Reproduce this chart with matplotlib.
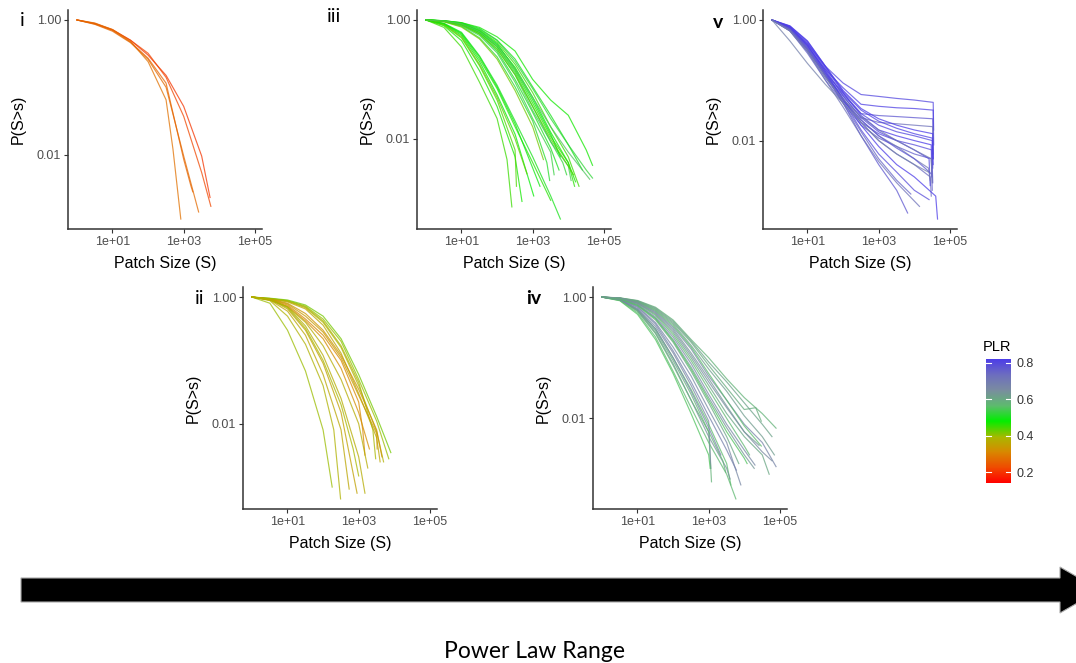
import numpy as np
import matplotlib
matplotlib.use('Agg')
import matplotlib.pyplot as plt
from matplotlib.colors import LinearSegmentedColormap, Normalize
from matplotlib.cm import ScalarMappable
from matplotlib.patches import Polygon

plt.rcParams['font.family'] = ['Liberation Sans', 'DejaVu Sans']

# patch sizes at which P(S>s) was read for every curve
S_GRID = [1, 3.2, 10, 32, 100, 320, 1000, 3200, 10000, 32000]

# each curve: (PLR, P at S_GRID[:n], extra sizes, extra P)
panel_i = [
    (0.20, [1, 0.89, 0.71, 0.50, 0.30, 0.15, 0.052, 0.0095], [5500], [0.0023]),
    (0.22, [1, 0.88, 0.72, 0.50, 0.32, 0.14, 0.037, 0.0054], [5800], [0.0017]),
    (0.28, [1, 0.90, 0.72, 0.48, 0.24, 0.065], [500, 830], [0.012, 0.0011]),
    (0.27, [1, 0.86, 0.68, 0.46, 0.26, 0.10, 0.0095], [2630], [0.0014]),
    (0.26, [1, 0.87, 0.70, 0.47, 0.27, 0.115, 0.0085], [1600, 1800], [0.0034, 0.0028]),
]

panel_ii = [
    (0.40, [1, 0.95, 0.88, 0.72, 0.45, 0.20, 0.050, 0.011], [7000], [0.0028]),
    (0.38, [1, 0.94, 0.86, 0.68, 0.40, 0.16, 0.040, 0.0075], [5000], [0.0025]),
    (0.42, [1, 0.96, 0.90, 0.75, 0.50, 0.22, 0.060, 0.013], [8000], [0.0035]),
    (0.36, [1, 0.93, 0.84, 0.65, 0.36, 0.13, 0.030, 0.0060], [4000], [0.0025]),
    (0.39, [1, 0.95, 0.87, 0.70, 0.42, 0.17, 0.045], [2500, 3000], [0.008, 0.0028]),
    (0.33, [1, 0.93, 0.80, 0.55, 0.30, 0.12, 0.035, 0.0080], [4500], [0.003]),
    (0.31, [1, 0.92, 0.75, 0.45, 0.25, 0.10, 0.022], [1300, 1500], [0.008, 0.0032]),
    (0.32, [1, 0.90, 0.72, 0.42, 0.22, 0.075, 0.015], [2000], [0.0040]),
    (0.34, [1, 0.92, 0.78, 0.50, 0.28, 0.11, 0.028, 0.007], [3300], [0.004]),
    (0.37, [1, 0.90, 0.70, 0.40, 0.17, 0.05, 0.010], [1800], [0.0020]),
    (0.40, [1, 0.80, 0.30, 0.068, 0.008], [180], [0.0010]),
    (0.38, [1, 0.88, 0.50, 0.18, 0.04], [200, 310], [0.008, 0.00065]),
    (0.36, [1, 0.90, 0.60, 0.25, 0.06, 0.008], [540], [0.00093]),
    (0.35, [1, 0.92, 0.65, 0.30, 0.09, 0.015], [900], [0.0008]),
    (0.37, [1, 0.93, 0.70, 0.35, 0.12, 0.025, 0.003], [1500], [0.0008]),
    (0.39, [1, 0.92, 0.68, 0.32, 0.10, 0.020], [700, 1000], [0.004, 0.0015]),
]

panel_iii = [
    (0.45, [1, 0.75, 0.35, 0.09, 0.022], [190, 260], [0.0045, 0.00072]),
    (0.47, [1, 0.80, 0.45, 0.14, 0.035, 0.005], [500], [0.00089]),
    (0.44, [1, 0.82, 0.50, 0.17, 0.045, 0.0065], [350], [0.0016]),
    (0.48, [1, 0.85, 0.55, 0.20, 0.055, 0.012], [1070], [0.0011]),
    (0.46, [1, 0.86, 0.58, 0.22, 0.07, 0.016, 0.004], [3200], [0.00093]),
    (0.50, [1, 0.88, 0.62, 0.25, 0.08, 0.02, 0.005, 0.0011], [6000], [0.00045]),
    (0.43, [1, 0.84, 0.52, 0.18, 0.05, 0.010], [690], [0.0026]),
    (0.49, [1, 0.87, 0.60, 0.24, 0.075, 0.018], [1600], [0.0016]),
    (0.52, [1, 0.96, 0.85, 0.62, 0.35, 0.13, 0.035, 0.009], [7000, 9000], [0.004, 0.0025]),
    (0.50, [1, 0.95, 0.82, 0.58, 0.30, 0.10, 0.028, 0.007], [5500], [0.0030]),
    (0.47, [1, 0.96, 0.86, 0.65, 0.38, 0.16, 0.050, 0.013, 0.004], [16000], [0.0019]),
    (0.53, [1, 0.95, 0.80, 0.55, 0.28, 0.09, 0.022, 0.006], [4000], [0.0025]),
    (0.45, [1, 0.97, 0.88, 0.68, 0.42, 0.18, 0.060, 0.016, 0.005], [20000], [0.0016]),
    (0.51, [1, 0.94, 0.78, 0.50, 0.24, 0.075, 0.020], [2500, 3000], [0.004, 0.002]),
    (0.54, [1, 0.95, 0.84, 0.60, 0.33, 0.12, 0.030, 0.009, 0.0035], [12000], [0.0020]),
    (0.48, [1, 0.96, 0.87, 0.66, 0.40, 0.15, 0.045, 0.012], [6000], [0.0050]),
    (0.42, [1, 0.93, 0.76, 0.48, 0.22, 0.065, 0.016], [2000], [0.0045]),
    (0.50, [1, 0.97, 0.90, 0.72, 0.46, 0.22, 0.075, 0.025, 0.008], [25000], [0.0030]),
    (0.46, [1, 0.96, 0.85, 0.62, 0.36, 0.14, 0.040, 0.011, 0.004], [15000], [0.0016]),
    (0.52, [1, 0.97, 0.89, 0.70, 0.45, 0.20, 0.070, 0.022, 0.008, 0.003], [48000], [0.0022]),
    (0.47, [1, 0.97, 0.90, 0.75, 0.52, 0.30, 0.10, 0.045, 0.025, 0.0065], [48000], [0.0036]),
    (0.44, [1, 0.95, 0.83, 0.58, 0.32, 0.12, 0.035, 0.010, 0.0035], [14000], [0.0025]),
    (0.55, [1, 0.96, 0.86, 0.64, 0.38, 0.15, 0.050, 0.016, 0.0060], [40000], [0.0021]),
]

panel_iv = [
    (0.58, [1, 0.90, 0.60, 0.28, 0.09, 0.025, 0.006], [1200], [0.0009]),
    (0.65, [1, 0.92, 0.65, 0.33, 0.12, 0.035, 0.009], [1150], [0.0015]),
    (0.56, [1, 0.91, 0.62, 0.30, 0.10, 0.030, 0.008, 0.0018], [4200], [0.0008]),
    (0.57, [1, 0.88, 0.55, 0.22, 0.06, 0.015, 0.004, 0.0012], [5800], [0.00047]),
    (0.66, [1, 0.93, 0.70, 0.38, 0.15, 0.050, 0.014, 0.004], [8000], [0.0008]),
    (0.63, [1, 0.94, 0.75, 0.45, 0.20, 0.070, 0.022, 0.007, 0.0025], [19000], [0.0015]),
    (0.60, [1, 0.95, 0.80, 0.52, 0.26, 0.10, 0.035, 0.012, 0.005, 0.0025], [50000], [0.0012]),
    (0.67, [1, 0.96, 0.83, 0.58, 0.32, 0.14, 0.050, 0.020, 0.008, 0.004], [78000], [0.0016]),
    (0.58, [1, 0.97, 0.88, 0.68, 0.42, 0.20, 0.10, 0.045, 0.022, 0.012], [78000], [0.0069]),
    (0.62, [1, 0.96, 0.85, 0.62, 0.36, 0.16, 0.065, 0.028, 0.011, 0.005], [70000], [0.0025]),
    (0.59, [1, 0.96, 0.86, 0.64, 0.38, 0.18, 0.075, 0.032, 0.014], [21000, 30000], [0.015, 0.009]),
    (0.68, [1, 0.92, 0.68, 0.36, 0.13, 0.040, 0.011, 0.003], [6000], [0.0014]),
    (0.55, [1, 0.87, 0.52, 0.20, 0.055, 0.012, 0.0025], [1100], [0.0015]),
    (0.64, [1, 0.90, 0.60, 0.26, 0.08, 0.020, 0.005, 0.0015], [4000], [0.0010]),
    (0.57, [1, 0.95, 0.78, 0.50, 0.24, 0.09, 0.030, 0.010, 0.0035], [14000], [0.0025]),
    (0.66, [1, 0.94, 0.76, 0.47, 0.22, 0.080, 0.025, 0.008, 0.003], [20000], [0.0017]),
    (0.60, [1, 0.93, 0.72, 0.42, 0.18, 0.060, 0.018, 0.005], [7000], [0.0018]),
    (0.56, [1, 0.96, 0.84, 0.60, 0.34, 0.15, 0.055, 0.020, 0.0075], [30000], [0.0035]),
    (0.65, [1, 0.95, 0.80, 0.54, 0.28, 0.11, 0.040, 0.015, 0.006, 0.0028], [60000], [0.0020]),
    (0.58, [1, 0.89, 0.58, 0.25, 0.075, 0.020, 0.006], [2500, 3000], [0.002, 0.0013]),
    (0.61, [1, 0.97, 0.87, 0.66, 0.40, 0.19, 0.085, 0.040, 0.018, 0.008], [60000], [0.005]),
    (0.67, [1, 0.91, 0.63, 0.30, 0.10, 0.028, 0.007], [2200], [0.0025]),
    (0.55, [1, 0.93, 0.73, 0.44, 0.19, 0.065, 0.020, 0.006, 0.0022], [12000], [0.0018]),
    (0.63, [1, 0.96, 0.82, 0.56, 0.30, 0.12, 0.045, 0.016, 0.006], [26000], [0.0036]),
]

panel_v = [
    (0.80, [1, 0.75, 0.40, 0.17, 0.090, 0.058, 0.054, 0.050, 0.047], [34000, 35000], [0.043, 0.015]),
    (0.81, [1, 0.72, 0.36, 0.15, 0.075, 0.040, 0.037, 0.035, 0.034], [34000, 35000], [0.032, 0.0085]),
    (0.77, [1, 0.70, 0.33, 0.13, 0.062, 0.028, 0.026, 0.025, 0.024], [33000, 34000], [0.023, 0.006]),
    (0.72, [1, 0.68, 0.32, 0.12, 0.055, 0.024, 0.020, 0.019, 0.018], [33000, 34000], [0.017, 0.005]),
    (0.80, [1, 0.74, 0.38, 0.14, 0.058, 0.028, 0.018, 0.014, 0.012], [32000, 33000], [0.010, 0.0035]),
    (0.82, [1, 0.78, 0.42, 0.16, 0.062, 0.026, 0.015, 0.012, 0.010], [30000, 31000], [0.0085, 0.0025]),
    (0.79, [1, 0.70, 0.32, 0.12, 0.048, 0.020, 0.013, 0.010, 0.0085], [31000, 33000], [0.007, 0.0020]),
    (0.76, [1, 0.66, 0.28, 0.10, 0.042, 0.018, 0.011, 0.008, 0.006], [30000, 32000], [0.005, 0.0015]),
    (0.81, [1, 0.80, 0.45, 0.17, 0.065, 0.032, 0.021, 0.016, 0.013], [32000, 34000], [0.011, 0.004]),
    (0.74, [1, 0.70, 0.33, 0.12, 0.050, 0.020, 0.010, 0.006, 0.004], [28000, 30000], [0.0025, 0.0012]),
    (0.80, [1, 0.76, 0.40, 0.15, 0.055, 0.024, 0.014, 0.010, 0.007], [26000, 28000], [0.005, 0.0018]),
    (0.70, [1, 0.66, 0.30, 0.11, 0.046, 0.022, 0.012, 0.008, 0.005], [25000, 28000], [0.0035, 0.0022]),
    (0.78, [1, 0.72, 0.35, 0.13, 0.050, 0.022, 0.012, 0.0075, 0.005], [20000, 30000], [0.0035, 0.0028]),
    (0.82, [1, 0.79, 0.44, 0.17, 0.068, 0.034, 0.023, 0.018, 0.015], [33000, 34000], [0.013, 0.005]),
    (0.77, [1, 0.72, 0.34, 0.12, 0.042, 0.012, 0.004, 0.0015], [6500], [0.00063]),
    (0.72, [1, 0.66, 0.30, 0.10, 0.036, 0.012, 0.0045, 0.002], [14000], [0.00081]),
    (0.79, [1, 0.74, 0.37, 0.13, 0.046, 0.015, 0.006, 0.003, 0.0015], [26000], [0.00105]),
    (0.82, [1, 0.76, 0.38, 0.14, 0.048, 0.018, 0.008, 0.004, 0.0025], [40000, 45000], [0.0012, 0.0005]),
    (0.75, [1, 0.70, 0.33, 0.12, 0.042, 0.014, 0.005, 0.0022], [8000], [0.0013]),
    (0.68, [1, 0.45, 0.19, 0.085, 0.042, 0.020, 0.010, 0.006, 0.004], [25000], [0.003]),
    (0.70, [1, 0.66, 0.30, 0.11, 0.048, 0.025, 0.015, 0.010, 0.007], [30000, 32000], [0.005, 0.002]),
]

panel_names = ['i', 'ii', 'iii', 'iv', 'v']
panel_data = [panel_i, panel_ii, panel_iii, panel_iv, panel_v]

x_ticks = [10, 1000, 100000]
x_ticklabels = ['1e+01', '1e+03', '1e+05']
y_ticks = [0.01, 1]
y_ticklabels = ['0.01', '1.00']

plr_limits = (0.14, 0.82)
plr_ticks = [0.2, 0.4, 0.6, 0.8]
cmap_colors = [(0.0, '#ff0000'), (0.12, '#f04800'), (0.25, '#d88800'),
               (0.37, '#a8b800'), (0.5, '#00ee00'), (0.62, '#5cbc6c'),
               (0.75, '#7a8ca0'), (0.88, '#6c6cc0'), (1.0, '#4c3ce8')]
plr_cmap = LinearSegmentedColormap.from_list('plr', cmap_colors)
plr_norm = Normalize(*plr_limits)

W, H = 1076, 663
fig = plt.figure(figsize=(W / 100, H / 100), dpi=100)


def px_axes(x0, x1, ytop, ybot):
    return fig.add_axes([x0 / W, 1 - ybot / H, (x1 - x0) / W, (ybot - ytop) / H])


# panel boxes in pixels: left, right, top, bottom
boxes = {'i': (68, 262, 10, 229), 'iii': (417, 611, 10, 229),
         'v': (763, 957, 10, 229), 'ii': (243, 437, 287, 509),
         'iv': (593, 787, 287, 509)}
label_pos = {'i': (22, 20), 'iii': (334, 16), 'v': (718, 22),
             'ii': (200, 299), 'iv': (534, 299)}
bold = {'v', 'iv'}

for name, curves in zip(panel_names, panel_data):
    ax = px_axes(*boxes[name])
    pmin = 1.0
    for plr, pg, ts, tp in curves:
        s = S_GRID[:len(pg)] + ts
        p = pg + tp
        pmin = min(pmin, min(p))
        ax.plot(s, p, color=plr_cmap(plr_norm(plr)), lw=0.85, alpha=0.75)
    ax.set_xscale('log')
    ax.set_yscale('log')
    lo = np.log10(pmin)
    ax.set_ylim(10 ** (lo * 1.05), 10 ** (-lo * 0.05))
    ax.set_xlim(10 ** -0.25, 10 ** 5.2)
    ax.set_xticks(x_ticks)
    ax.set_xticklabels(x_ticklabels)
    ax.set_yticks(y_ticks)
    ax.set_yticklabels(y_ticklabels)
    ax.minorticks_off()
    for sp in ['top', 'right']:
        ax.spines[sp].set_visible(False)
    for sp in ['left', 'bottom']:
        ax.spines[sp].set_color('#333333')
        ax.spines[sp].set_linewidth(1.1)
    ax.tick_params(length=3, width=0.8, color='#333333', labelcolor='#4d4d4d',
                   labelsize=9, pad=2)
    ax.set_xlabel('Patch Size (S)', fontsize=11.5, labelpad=6)
    ax.set_ylabel('P(S>s)', fontsize=11.5, labelpad=8)
    lx, ly = label_pos[name]
    fig.text(lx / W, 1 - ly / H, name, fontsize=14, family='Lato',
             fontweight='bold' if name in bold else 'normal',
             ha='center', va='center')

# colour bar
cax = px_axes(986, 1011, 359, 483)
cb = fig.colorbar(ScalarMappable(norm=plr_norm, cmap=plr_cmap), cax=cax)
cb.outline.set_visible(False)
cb.set_ticks(plr_ticks)
cax.tick_params(length=0, labelsize=9, labelcolor='#333333', pad=4)
for t in plr_ticks:
    cax.plot([0, 0.2], [t, t], color='white', lw=0.8)
    cax.plot([0.8, 1], [t, t], color='white', lw=0.8)
fig.text(983 / W, 1 - 347 / H, 'PLR', fontsize=10.5, va='center', ha='left')

# arrow along the bottom
pts = [(21, 578), (1060, 578), (1060, 567), (1100, 590), (1060, 613),
       (1060, 602), (21, 602)]
arrow = Polygon([(x / W, 1 - y / H) for x, y in pts], closed=True,
                transform=fig.transFigure, facecolor='black',
                edgecolor='#aaaaaa', lw=0.8)
fig.patches.append(arrow)
fig.text(534 / W, 1 - 651 / H, 'Power Law Range', fontsize=16.5, family='Lato',
         ha='center', va='center')

fig.savefig('out.png', dpi=100)
plt.close()
